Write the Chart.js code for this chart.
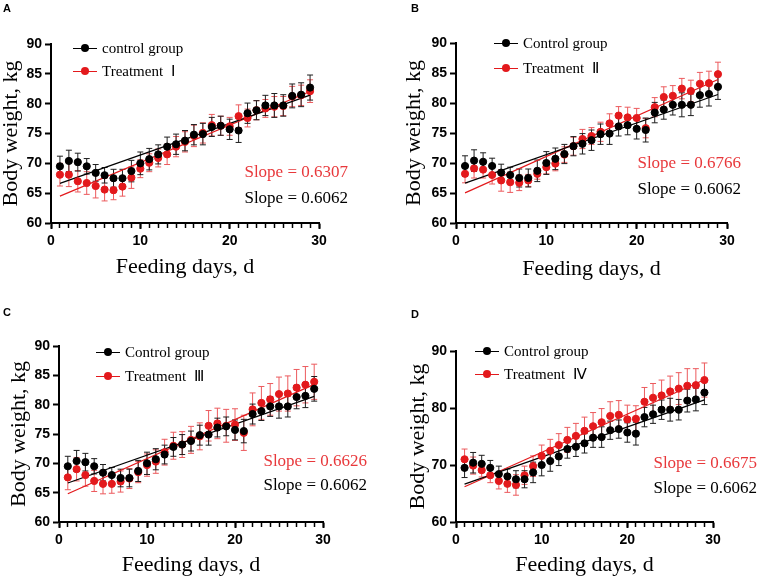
<!DOCTYPE html>
<html>
<head>
<meta charset="utf-8">
<script src="https://cdn.jsdelivr.net/npm/chart.js@4.4.1/dist/chart.umd.min.js"></script>
<style>
  html, body { margin: 0; padding: 0; background: #fff; }
  #page { position: relative; width: 758px; height: 579px; overflow: hidden; }
  .panel { position: absolute; }
  .letter { position: absolute; font: bold 11px "Liberation Sans", Arial, sans-serif; color: #000; }
  .leg { position: absolute; font: 15px "Liberation Serif", serif; line-height: 16px; white-space: nowrap; color: #000; }
  .sym { position: absolute; width: 24px; height: 0; border-top: 1.3px solid; }
  .dot { position: absolute; left: 8px; top: -4.6px; width: 8px; height: 8px; border-radius: 50%; }
  .slope { position: absolute; font: 17px "Liberation Serif", serif; line-height: 18px; white-space: nowrap; text-align: right; }
</style>
</head>
<body>
<div id="page"></div>
<script>
  // Feeding days (x values)
  const days = [1, 2, 3, 4, 5, 6, 7, 8, 9, 10, 11, 12, 13, 14, 15, 16, 17, 18, 19, 20, 21, 22, 23, 24, 25, 26, 27, 28, 29];

  // Control group, same in all four panels
  const controlMean = [69.5, 70.4, 70.2, 69.5, 68.4, 68.0, 67.5, 67.5, 68.7, 70.0, 70.7, 71.5, 72.8, 73.2, 73.8, 74.8, 74.9, 76.1, 76.3, 75.7, 75.5, 78.4, 78.9, 79.7, 79.7, 79.7, 81.3, 81.5, 82.7];
  const controlErr = [1.7, 1.8, 1.5, 1.3, 1.4, 1.3, 1.5, 1.5, 1.8, 1.9, 1.8, 1.6, 1.6, 1.7, 1.7, 1.7, 1.8, 1.6, 1.6, 1.7, 2.0, 1.7, 1.6, 1.7, 2.0, 1.8, 2.0, 2.0, 2.1];

  // Treatment groups
  const treat1Mean = [68.1, 68.1, 67.0, 66.7, 66.2, 65.6, 65.5, 66.1, 67.6, 69.1, 70.1, 70.9, 71.5, 72.8, 73.6, 74.6, 75.1, 76.4, 76.3, 76.2, 77.9, 77.6, 78.9, 79.2, 79.5, 79.6, 81.2, 81.4, 82.1];
  const treat1Err = [1.9, 2.0, 1.8, 1.9, 2.0, 1.9, 1.6, 1.6, 1.8, 1.5, 1.5, 1.5, 1.7, 1.7, 1.7, 1.8, 1.7, 1.8, 1.6, 1.5, 1.9, 1.5, 1.6, 1.5, 1.7, 1.6, 1.7, 1.7, 1.9];
  const treat2Mean = [68.2, 69.1, 68.9, 68.0, 67.1, 66.8, 66.7, 67.1, 68.2, 69.3, 69.9, 71.4, 72.8, 74.0, 74.5, 75.2, 76.6, 77.9, 77.6, 77.5, 75.8, 79.3, 81.0, 81.2, 82.4, 82.0, 83.2, 83.3, 84.8];
  const treat2Err = [1.5, 1.6, 1.4, 1.5, 1.8, 1.7, 1.3, 1.0, 0.9, 1.1, 1.2, 1.3, 1.5, 1.6, 1.4, 1.6, 1.6, 1.5, 1.7, 1.6, 1.6, 1.6, 1.7, 1.7, 1.7, 1.8, 1.9, 2.0, 2.0];
  const treat3Mean = [67.6, 69.0, 68.0, 67.0, 66.5, 66.5, 66.9, 67.4, 68.5, 69.7, 70.3, 71.9, 73.0, 73.2, 74.0, 74.6, 76.4, 76.8, 76.4, 76.6, 75.2, 79.2, 80.3, 80.9, 81.8, 81.9, 82.9, 83.4, 83.9];
  const treat3Err = [2.1, 2.0, 1.9, 1.8, 1.7, 1.6, 1.8, 1.7, 1.8, 1.9, 2.0, 2.2, 2.3, 2.2, 2.3, 2.3, 2.6, 2.6, 2.8, 2.7, 3.0, 2.8, 2.8, 2.7, 2.9, 3.0, 3.1, 3.1, 3.0];
  const treat4Mean = [71.0, 69.9, 69.1, 68.2, 67.2, 66.7, 66.5, 68.2, 69.8, 71.6, 72.5, 73.5, 74.4, 75.1, 76.0, 76.8, 77.5, 78.6, 78.8, 78.0, 78.1, 81.1, 81.8, 82.2, 82.9, 83.4, 83.9, 84.0, 84.9];
  const treat4Err = [1.8, 1.5, 1.2, 1.3, 1.4, 1.5, 1.8, 1.6, 1.8, 1.9, 2.0, 2.0, 2.2, 2.2, 2.4, 2.4, 2.4, 2.5, 2.5, 2.5, 2.3, 2.5, 2.5, 2.7, 2.7, 2.8, 3.0, 2.9, 3.0];

  // Text
  const panelLetters = ["A", "B", "C", "D"];
  const controlNames = ["control group", "Control group", "Control group", "Control group"];
  const treatmentNames = ["Treatment  \u2160", "Treatment  \u2161", "Treatment  \u2162", "Treatment  \u2163"];
  const treatmentSlopes = ["0.6307", "0.6766", "0.6626", "0.6675"];
  const controlSlope = "0.6062";
  const yStepSizes = [5, 5, 5, 10];
  const treatMeans = [treat1Mean, treat2Mean, treat3Mean, treat4Mean];
  const treatErrs = [treat1Err, treat2Err, treat3Err, treat4Err];

  const RED = "#e3191c";
  const RED_TEXT = "#e8383b";
  const RED_ERR = "#ec5a5d";

  // Panel placement (page pixels)
  const layouts = [
    { left: 0, top: 0, w: 379, h: 290, area: [51, 44, 319, 223], yTitle: 11, xTitle: 267,
      legend: { y: [48, 71], text: 102 }, slope: { right: 348, y: [172, 198] }, letter: [3, 2] },
    { left: 379, top: 0, w: 379, h: 290, area: [456, 43, 727, 223], yTitle: 35, xTitle: 269,
      legend: { y: [43, 68], text: 523 }, slope: { right: 741, y: [163, 189] }, letter: [411, 2] },
    { left: 0, top: 290, w: 379, h: 289, area: [59, 346, 323, 522], yTitle: 19, xTitle: 565,
      legend: { y: [352, 376], text: 125 }, slope: { right: 367, y: [461, 485] }, letter: [3, 306] },
    { left: 379, top: 290, w: 379, h: 289, area: [456, 351, 713, 522], yTitle: 39, xTitle: 565,
      legend: { y: [351, 374], text: 504 }, slope: { right: 757, y: [463, 488] }, letter: [411, 308] },
  ];

  // Least squares line through the points
  function linearFit(xs, ys) {
    const n = xs.length;
    const mx = xs.reduce((a, b) => a + b, 0) / n;
    const my = ys.reduce((a, b) => a + b, 0) / n;
    let sxy = 0, sxx = 0;
    for (let i = 0; i < n; i++) {
      sxy += (xs[i] - mx) * (ys[i] - my);
      sxx += (xs[i] - mx) * (xs[i] - mx);
    }
    const slope = sxy / sxx;
    return (x) => my + slope * (x - mx);
  }

  // Vertical error bars with caps, drawn under the points
  const errorBars = {
    id: "errorBars",
    beforeDatasetsDraw(chart) {
      const ctx = chart.ctx;
      const yScale = chart.scales.y;
      const idx = chart.data.datasets.map((d, i) => i).filter((i) => chart.data.datasets[i].errors);
      idx.reverse().forEach((i) => {
        const ds = chart.data.datasets[i];
        const meta = chart.getDatasetMeta(i);
        ctx.save();
        ctx.strokeStyle = ds.errColor;
        ctx.lineWidth = 1;
        meta.data.forEach((pt, k) => {
          const v = ds.data[k].y;
          const top = yScale.getPixelForValue(v + ds.errors[k]);
          const bot = yScale.getPixelForValue(v - ds.errors[k]);
          ctx.beginPath();
          ctx.moveTo(pt.x, top);
          ctx.lineTo(pt.x, bot);
          ctx.moveTo(pt.x - 3, top);
          ctx.lineTo(pt.x + 3, top);
          ctx.moveTo(pt.x - 3, bot);
          ctx.lineTo(pt.x + 3, bot);
          ctx.stroke();
        });
        ctx.restore();
      });
    },
  };

  function addDiv(cls, left, top, text, color) {
    const el = document.createElement("div");
    el.className = cls;
    el.style.left = left + "px";
    el.style.top = top + "px";
    if (text) el.textContent = text;
    if (color) el.style.color = color;
    document.getElementById("page").appendChild(el);
    return el;
  }

  function addLegendRow(x, y, label, color) {
    const sym = addDiv("sym", x - 29, y);
    sym.style.borderColor = color;
    const dot = document.createElement("div");
    dot.className = "dot";
    dot.style.background = color;
    sym.appendChild(dot);
    const text = addDiv("leg", x, y - 8, label);
    text.style.whiteSpace = "pre";
  }

  function createPanel(i) {
    const L = layouts[i];
    const wrap = addDiv("panel", L.left, L.top);
    const canvas = document.createElement("canvas");
    canvas.width = L.w;
    canvas.height = L.h;
    wrap.appendChild(canvas);

    const [aL, aT, aR, aB] = L.area;
    const yWidth = aL - L.left;
    const xHeight = L.top + L.h - aB;
    const trt = treatMeans[i];
    const ctrlFit = linearFit(days, controlMean);
    const trtFit = linearFit(days, trt);
    const first = days[0];
    const last = days[days.length - 1];

    new Chart(canvas, {
      type: "scatter",
      data: {
        datasets: [
          {
            label: controlNames[i],
            data: days.map((d, k) => ({ x: d, y: controlMean[k] })),
            errors: controlErr,
            errColor: "#1e1e1e",
            backgroundColor: "#000",
            borderColor: "#000",
            pointRadius: 3.6,
            order: 0,
          },
          {
            label: treatmentNames[i],
            data: days.map((d, k) => ({ x: d, y: trt[k] })),
            errors: treatErrs[i],
            errColor: RED_ERR,
            backgroundColor: RED,
            borderColor: RED,
            pointRadius: 3.6,
            order: 1,
          },
          {
            type: "line",
            data: [{ x: first, y: ctrlFit(first) }, { x: last, y: ctrlFit(last) }],
            borderColor: "#000",
            borderWidth: 1.2,
            pointRadius: 0,
            order: 2,
          },
          {
            type: "line",
            data: [{ x: first, y: trtFit(first) }, { x: last, y: trtFit(last) }],
            borderColor: RED,
            borderWidth: 1.2,
            pointRadius: 0,
            order: 3,
          },
        ],
      },
      options: {
        responsive: false,
        animation: false,
        events: [],
        layout: {
          autoPadding: false,
          padding: { left: 0, top: aT - L.top, right: L.left + L.w - aR, bottom: 0 },
        },
        plugins: { legend: { display: false }, tooltip: { enabled: false } },
        scales: {
          x: {
            type: "linear",
            position: "bottom",
            weight: 1,
            min: 0,
            max: 30,
            ticks: {
              stepSize: 10,
              color: "#000",
              padding: 4,
              font: { family: "Liberation Sans", size: 14, weight: "bold" },
            },
            grid: { drawOnChartArea: false, tickLength: 6, tickColor: "#000", tickWidth: 2 },
            border: { color: "#000", width: 2 },
            title: {
              display: true,
              text: "Feeding days, d",
              color: "#000",
              font: { family: "Liberation Serif", size: 22, lineHeight: 1 },
              padding: { top: 0, bottom: L.top + L.h - L.xTitle - 11 },
            },
            afterFit: (s) => {
              s.height = xHeight;
              s.paddingLeft = 0;
              s.paddingRight = 0;
            },
          },
          xm: {
            type: "linear",
            position: "bottom",
            weight: 0,
            min: 0,
            max: 30,
            ticks: { display: false, stepSize: 1 },
            grid: { drawOnChartArea: false, tickLength: 5, tickColor: "#000", tickWidth: 1.5 },
            border: { display: false },
            afterFit: (s) => {
              s.height = 0;
              s.paddingLeft = 0;
              s.paddingRight = 0;
            },
          },
          y: {
            min: 60,
            max: 90,
            ticks: {
              stepSize: yStepSizes[i],
              color: "#000",
              padding: 3,
              font: { family: "Liberation Sans", size: 14, weight: "bold" },
            },
            grid: { drawOnChartArea: false, tickLength: 6, tickColor: "#000", tickWidth: 2 },
            border: { color: "#000", width: 2 },
            title: {
              display: true,
              text: "Body weight, kg",
              color: "#000",
              font: { family: "Liberation Serif", size: 22, lineHeight: 1 },
              padding: { top: L.yTitle - 11, bottom: 0 },
            },
            afterFit: (s) => {
              s.width = yWidth;
              s.paddingTop = 0;
              s.paddingBottom = 0;
            },
          },
        },
      },
      plugins: [errorBars],
    });

    // Panel letter, legend and slope labels
    addDiv("letter", L.letter[0], L.letter[1], panelLetters[i]);
    addLegendRow(L.legend.text, L.legend.y[0], controlNames[i], "#000");
    addLegendRow(L.legend.text, L.legend.y[1], treatmentNames[i], RED);
    const s1 = addDiv("slope", 0, L.slope.y[0] - 9, "Slope = " + treatmentSlopes[i], RED_TEXT);
    s1.style.left = "auto";
    s1.style.right = 758 - L.slope.right + "px";
    const s2 = addDiv("slope", 0, L.slope.y[1] - 9, "Slope = " + controlSlope, "#000");
    s2.style.left = "auto";
    s2.style.right = 758 - L.slope.right + "px";
  }

  Chart.defaults.font.family = "Liberation Sans";
  for (let i = 0; i < 4; i++) createPanel(i);
</script>
</body>
</html>
